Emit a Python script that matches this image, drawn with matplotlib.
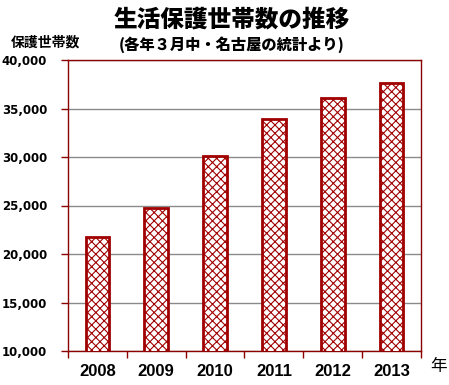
import numpy as np
import matplotlib
matplotlib.use('Agg')
import matplotlib.pyplot as plt

years = ["2008", "2009", "2010", "2011", "2012", "2013"]
households = [21800, 24750, 30100, 33900, 36050, 37600]
yticks = [10000, 15000, 20000, 25000, 30000, 35000, 40000]

title = "生活保護世帯数の推移"
subtitle = "(各年３月中・名古屋の統計より)"
ylabel = "保護世帯数"
xunit = "年"

CJK = ["Noto Sans CJK JP", "DejaVu Sans"]
RED = "#a00000"
SPINE = "#8b0000"

plt.rcParams['hatch.linewidth'] = 0.8

fig = plt.figure(figsize=(4.49, 3.85), dpi=100)
ax = fig.add_axes([68 / 449, 1 - 351 / 385, (421 - 68) / 449, (351 - 60) / 385])

x = np.arange(len(years))
ax.bar(x, households, width=0.4, color="white", edgecolor=RED,
       linewidth=2, hatch="xxxx", zorder=3)

ax.set_ylim(10000, 40000)
ax.set_xlim(-0.5, len(years) - 0.5)
ax.set_yticks(yticks)
ax.set_yticklabels(["{:,}".format(v) for v in yticks],
                   fontsize=8.5, fontweight="bold", family="DejaVu Sans")
ax.yaxis.grid(True, color="#8a8a8a", linewidth=1, zorder=0)

ax.set_xticks(x)
ax.set_xticklabels(years, fontsize=12, fontweight="bold",
                   family="Liberation Sans")
ax.tick_params(axis="x", which="major", length=0, pad=9)
ax.set_xticks(np.arange(-0.5, len(years)), minor=True)
ax.tick_params(axis="x", which="minor", length=5, color=SPINE, width=1)
ax.tick_params(axis="y", length=5, color=SPINE, width=1, pad=10)

for s in ax.spines.values():
    s.set_color(SPINE)
    s.set_linewidth(1)

fig.text(232 / 449, 1 - 19 / 385, title, ha="center", va="center",
         fontsize=17, fontweight="black", family=CJK)
fig.text(232 / 449, 1 - 45 / 385, subtitle, ha="center", va="center",
         fontsize=11, fontweight="black", family=CJK)
fig.text(11 / 449, 1 - 43 / 385, ylabel, ha="left", va="center",
         fontsize=10, fontweight="bold", family=CJK)
fig.text(430 / 449, 1 - 367 / 385, xunit, ha="left", va="center",
         fontsize=12, family=CJK)

fig.savefig("out.png", dpi=100)
